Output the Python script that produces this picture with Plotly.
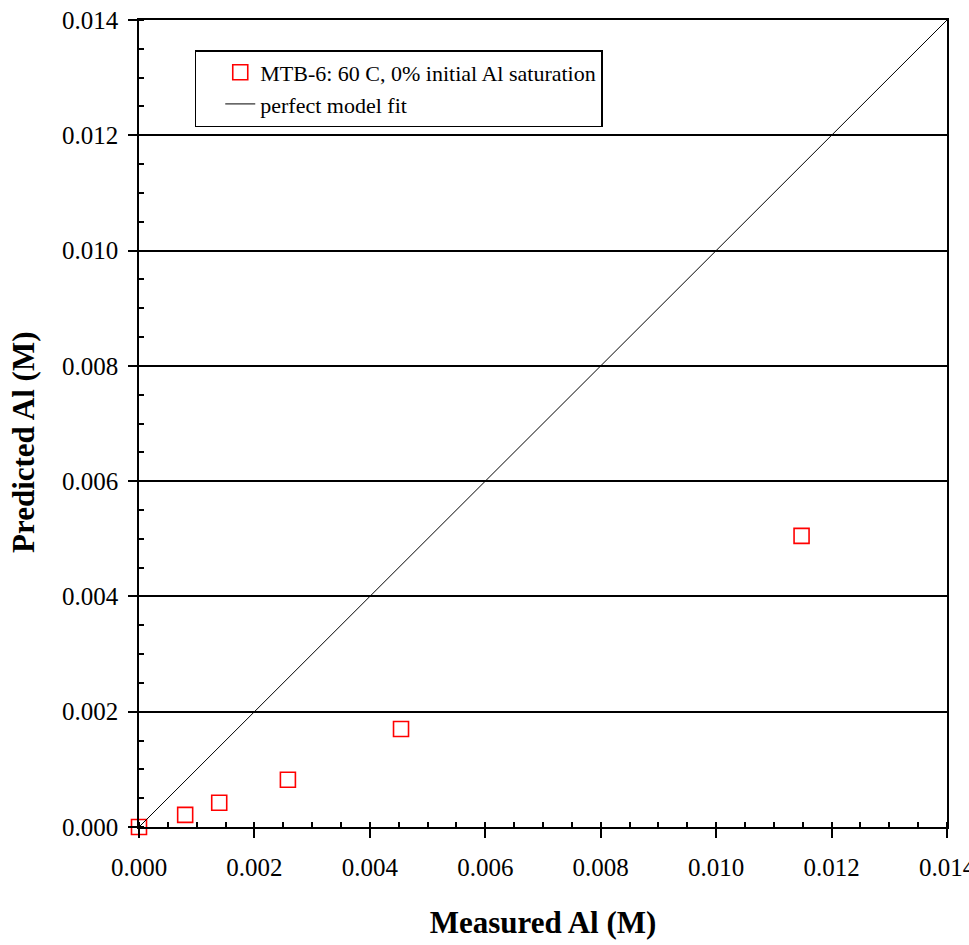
import plotly.graph_objects as go

measured = [0.0, 0.0008, 0.00139, 0.00258, 0.00454, 0.01148]
predicted = [0.0, 0.00021, 0.00042, 0.00082, 0.0017, 0.00505]
fit_x = [0.0, 0.014]
fit_y = [0.0, 0.014]
series_name = "MTB-6: 60 C, 0% initial Al saturation"
fit_name = "perfect model fit"
tick_vals = [0.0, 0.002, 0.004, 0.006, 0.008, 0.010, 0.012, 0.014]
tick_text = ["0.000", "0.002", "0.004", "0.006", "0.008", "0.010", "0.012", "0.014"]
x_title = "Measured Al (M)"
y_title = "Predicted Al (M)"

fig = go.Figure()
fig.add_trace(go.Scatter(
    x=measured, y=predicted, mode="markers", name=series_name,
    marker=dict(symbol="square-open", size=15, color="#ff0000", line=dict(width=1.6)),
    cliponaxis=False,
))
fig.add_trace(go.Scatter(
    x=fit_x, y=fit_y, mode="lines", name=fit_name,
    line=dict(color="black", width=1),
))

font_family = "Liberation Serif, Times New Roman, serif"
axis_common = dict(
    range=[0, 0.014], tickvals=tick_vals, ticktext=tick_text,
    ticks="outside", ticklen=9, tickwidth=1.5, tickcolor="black",
    showline=True, linecolor="black", linewidth=1.5, mirror=True,
    tickfont=dict(family=font_family, size=25, color="black"),
    ticklabeloverflow="allow",
    minor=dict(ticks="inside", ticklen=5, tickwidth=1.5, tickcolor="black", dtick=0.0005, showgrid=False),
    zeroline=False,
)
fig.update_xaxes(**axis_common, showgrid=False, ticklabelstandoff=8,
                 title=dict(text="<b>" + x_title + "</b>", font=dict(family=font_family, size=31, color="black"), standoff=32))
fig.update_yaxes(**axis_common, showgrid=True, gridcolor="black", gridwidth=1.5, ticklabelstandoff=5)

fig.add_annotation(
    text="<b>" + y_title + "</b>", textangle=-90,
    xref="paper", yref="paper", x=(23 - 139) / 808, y=(827 - 442) / 807,
    xanchor="center", yanchor="middle", showarrow=False,
    font=dict(family=font_family, size=31, color="black"),
)

fig.update_layout(
    width=969, height=945,
    margin=dict(l=139, r=22, t=20, b=118, autoexpand=False),
    plot_bgcolor="white", paper_bgcolor="white",
    showlegend=True,
    legend=dict(
        x=0.069, y=0.9628, xanchor="left", yanchor="top",
        bordercolor="black", borderwidth=1.5, bgcolor="white",
        font=dict(family=font_family, size=22, color="black"),
        tracegroupgap=0, indentation=24,
    ),
)
fig.write_html("out.html")
